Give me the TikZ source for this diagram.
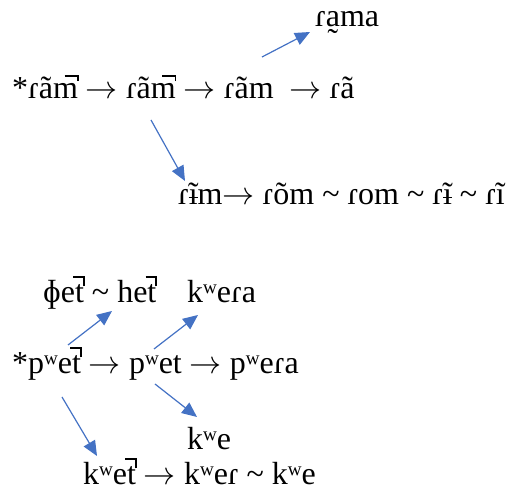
\documentclass[tikz,border=0pt]{standalone}
\usepackage{graphicx}
\usepackage{fontspec}
\setmainfont{Liberation Serif}
\usetikzlibrary{arrows.meta}
\definecolor{wordblue}{HTML}{4472C4}
\newcommand\swung{\textasciitilde}
\newcommand\goesto{\scalebox{1.29}{$\rightarrow$}}
\newcommand\ibartilde{\ooalign{ĩ\cr\hidewidth\rule[0.22em]{0.3em}{0.045em}\hidewidth\cr}}
% unreleased mark: #1 bar width, #2 bar height, #3 tick bottom, #4 letter
\newcommand\unrel[4]{\ooalign{#4\cr\hfil\llap{\rule[#2]{#1}{0.06em}\rule[#3]{0.06em}{\dimexpr#2+0.06em-#3\relax}}\kern-0.02em\cr}}
\newcommand\munrel{\unrel{0.38em}{0.68em}{0.56em}{m}}
\newcommand\tunrel{\unrel{0.30em}{0.78em}{0.52em}{t}}

\begin{document}
\begin{tikzpicture}[
    x=1pt, y=1pt,
    form/.style   ={anchor=base west, inner sep=0pt, font=\fontsize{32}{38}\selectfont},
    derive/.style ={draw=wordblue, line width=1.2pt, -{Triangle[length=15pt, width=13pt, fill=wordblue]}},
  ]
  \useasboundingbox (0,0) rectangle (509,492);

  % ---- nasal series ----
  \node[form] (rama)   at (315,465) {ɾa̰ma};
  \node[form] (ramrow) at (12,393)  {*ɾã\munrel{} \goesto{} ɾã\munrel{} \goesto{} ɾãm\ \ \goesto{} ɾã};
  \node[form] (rimrow) at (178,287) {ɾ\ibartilde m\goesto{} ɾõm \swung{} ɾom \swung{} ɾ\ibartilde{} \swung{} ɾĩ};

  % ---- labial series ----
  \node[form] (phet)   at (43,189)  {ɸe\tunrel{} \swung{} he\tunrel};
  \node[form] (kwera)  at (187,189) {kʷeɾa};
  \node[form] (pwrow)  at (12,118)  {*pʷe\tunrel{} \goesto{} pʷet \goesto{} pʷeɾa};
  \node[form] (kwe)    at (187,42)  {kʷe};
  \node[form] (kwrow)  at (83,7)    {kʷe\tunrel{} \goesto{} kʷeɾ \swung{} kʷe};

  % ---- arrow ends ----
  \coordinate (a1s) at (262,435); \coordinate (a1e) at (310,460);
  \coordinate (a2s) at (151,372); \coordinate (a2e) at (185,311);
  \coordinate (a3s) at (68,147);  \coordinate (a3e) at (112,181);
  \coordinate (a4s) at (154,143); \coordinate (a4e) at (198,177);
  \coordinate (a5s) at (155,108); \coordinate (a5e) at (197,75);
  \coordinate (a6s) at (62,95);   \coordinate (a6e) at (97,36);

  \draw[derive] (a1s) -- (a1e);
  \draw[derive] (a2s) -- (a2e);
  \draw[derive] (a3s) -- (a3e);
  \draw[derive] (a4s) -- (a4e);
  \draw[derive] (a5s) -- (a5e);
  \draw[derive] (a6s) -- (a6e);
\end{tikzpicture}
\end{document}
